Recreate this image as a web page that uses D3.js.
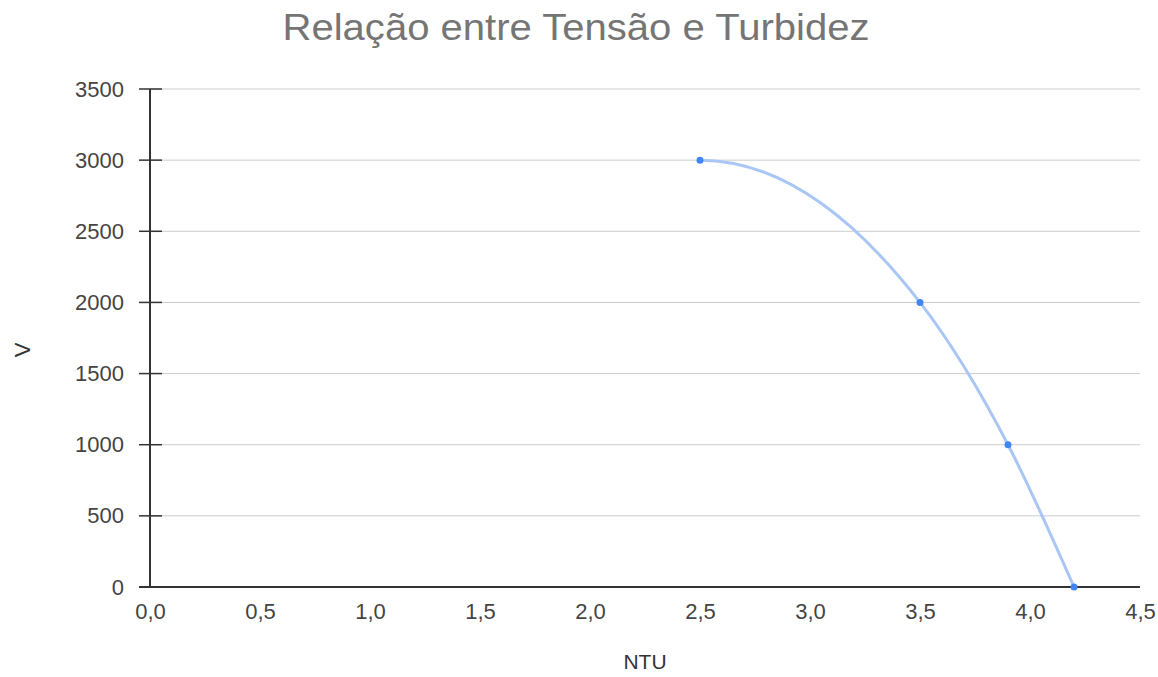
<!DOCTYPE html>
<html>
<head>
<meta charset="utf-8">
<script src="https://cdn.jsdelivr.net/npm/d3@7"></script>
<style>
  body { margin: 0; background: #fff; }
  text { font-family: "Liberation Sans", Arial, sans-serif; }
</style>
</head>
<body>
<div id="chart"></div>
<script>
// Relação entre Tensão e Turbidez

const ntu = [2.5, 3.5, 3.9, 4.2];
const tensao = [3000, 2000, 1000, 0];
const xTicks = [0, 0.5, 1, 1.5, 2, 2.5, 3, 3.5, 4, 4.5];
const yTicks = [0, 500, 1000, 1500, 2000, 2500, 3000, 3500];

const w = 1158, h = 677;
const pT = 89, pR = 18, pB = 90, pL = 150; // padding, clockwise from top

const svg = d3.select("#chart").
append("svg").
attr("width", w).
attr("height", h);

const xScale = d3.scaleLinear().
domain([0, 4.5]).
range([pL, w - pR]);

const yScale = d3.scaleLinear().
domain([0, 3500]).
range([h - pB, pT]);

const fmtX = d3.format(".1f");

// Grid lines
svg.append("g").
selectAll("line").
data(yTicks.filter(d => d > 0)).
join("line").
attr("x1", pL).
attr("x2", w - pR).
attr("y1", d => yScale(d)).
attr("y2", d => yScale(d)).
attr("stroke", "#cccccc").
attr("stroke-width", 1);

// Y axis
const yAxis = d3.axisLeft(yScale).
tickValues(yTicks).
tickFormat(d3.format("d")).
tickSize(0).
tickPadding(26);

const gy = svg.append("g").
attr("transform", `translate(${pL} 0)`).
call(yAxis);
gy.select(".domain").remove();
gy.selectAll("text").
attr("fill", "#444").
style("font-size", "22px");

// small crossing ticks on the y axis
svg.append("g").
selectAll("line").
data(yTicks).
join("line").
attr("x1", pL - 11).
attr("x2", pL + 12).
attr("y1", d => yScale(d)).
attr("y2", d => yScale(d)).
attr("stroke", "#333").
attr("stroke-width", 1.5);

svg.append("line").
attr("x1", pL).
attr("x2", pL).
attr("y1", yScale(3500)).
attr("y2", yScale(0)).
attr("stroke", "#333").
attr("stroke-width", 2);

// X axis
const xAxis = d3.axisBottom(xScale).
tickValues(xTicks).
tickFormat(d => fmtX(d).replace(".", ",")).
tickSize(0).
tickPadding(16);

const gx = svg.append("g").
attr("transform", `translate(0 ${yScale(0)})`).
call(xAxis);
gx.select(".domain").remove();
gx.selectAll("text").
attr("fill", "#444").
style("font-size", "22px");

svg.append("line").
attr("x1", pL - 11).
attr("x2", w - pR).
attr("y1", yScale(0)).
attr("y2", yScale(0)).
attr("stroke", "#333").
attr("stroke-width", 2);

// Curve: monotone hermite, flat at the first point
const px = ntu.map(d => xScale(d));
const py = tensao.map(d => yScale(d));

function smoothPath(xs, ys) {
  const n = xs.length;
  const s = [], t = [];
  for (let i = 0; i < n - 1; i++) s.push((ys[i + 1] - ys[i]) / (xs[i + 1] - xs[i]));
  for (let i = 1; i < n - 1; i++) {
    const h0 = xs[i] - xs[i - 1], h1 = xs[i + 1] - xs[i];
    const p = (s[i - 1] * h1 + s[i] * h0) / (h0 + h1);
    t[i] = (Math.sign(s[i - 1]) + Math.sign(s[i])) *
      Math.min(Math.abs(s[i - 1]), Math.abs(s[i]), 0.5 * Math.abs(p));
  }
  t[0] = 0;
  t[n - 1] = (3 * s[n - 2] - t[n - 2]) / 2;
  const path = d3.path();
  path.moveTo(xs[0], ys[0]);
  for (let i = 0; i < n - 1; i++) {
    const dx = (xs[i + 1] - xs[i]) / 3;
    path.bezierCurveTo(xs[i] + dx, ys[i] + t[i] * dx,
      xs[i + 1] - dx, ys[i + 1] - t[i + 1] * dx,
      xs[i + 1], ys[i + 1]);
  }
  return path.toString();
}

svg.append("path").
attr("d", smoothPath(px, py)).
attr("fill", "none").
attr("stroke", "#a9c6f5").
attr("stroke-width", 3);

svg.selectAll(".pt").
data(ntu).
join("circle").
attr("class", "pt").
attr("cx", d => xScale(d)).
attr("cy", (d, i) => yScale(tensao[i])).
attr("r", 3.5).
attr("fill", "#4285f4");

// Titles
svg.append("text").
attr("x", 576).
attr("y", 40).
attr("text-anchor", "middle").
attr("fill", "#757575").
attr("textLength", 587).
attr("lengthAdjust", "spacingAndGlyphs").
style("font-size", "36px").
text("Relação entre Tensão e Turbidez");

svg.append("text").
attr("x", 645).
attr("y", 669).
attr("text-anchor", "middle").
attr("fill", "#333").
style("font-size", "21px").
text("NTU");

svg.append("text").
attr("transform", "translate(30 350) rotate(-90)").
attr("text-anchor", "middle").
attr("fill", "#333").
style("font-size", "22px").
text("V");
</script>
</body>
</html>
